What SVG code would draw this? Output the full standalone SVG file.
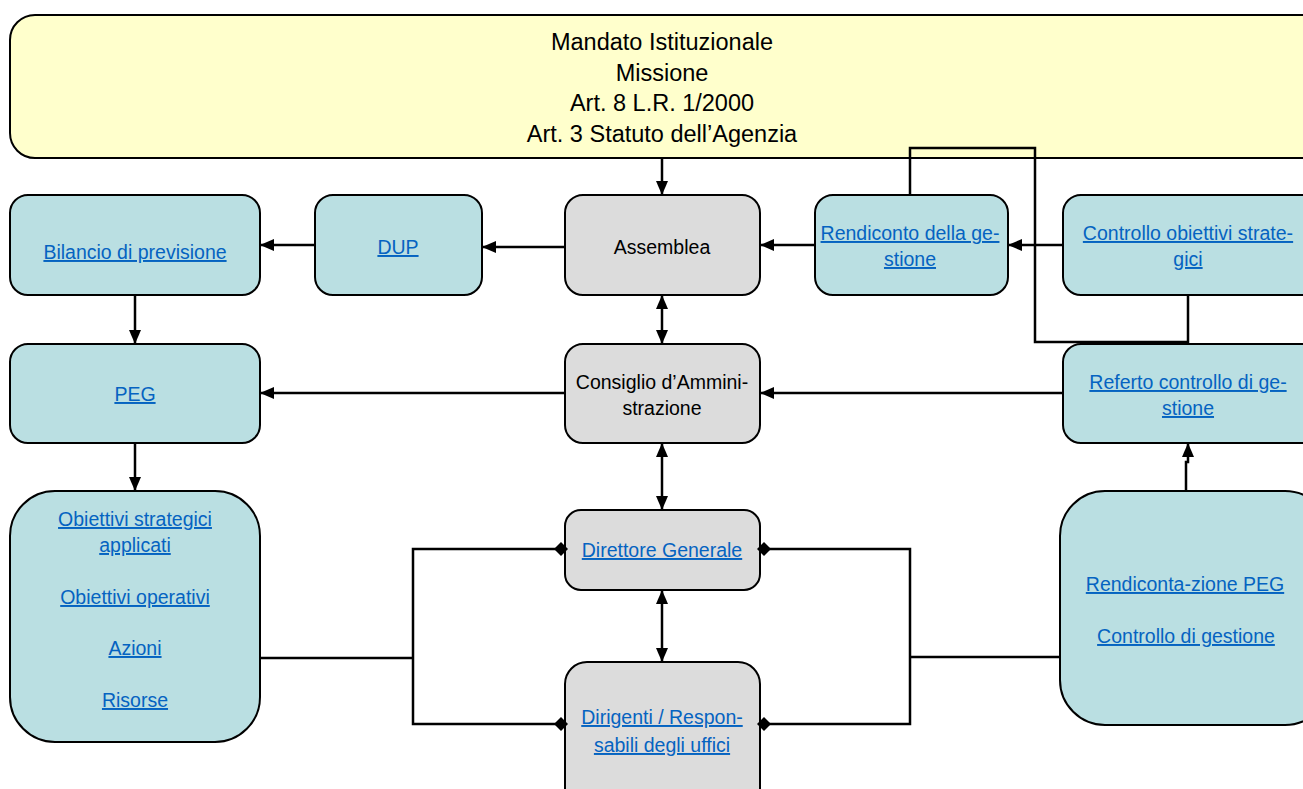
<svg xmlns="http://www.w3.org/2000/svg" width="1303" height="789" viewBox="0 0 1303 789">
<style>
.box{stroke:#000;stroke-width:2}
.y{fill:#FFFFCC}
.b{fill:#BADFE2}
.g{fill:#DCDCDC}
.t{font-family:"Liberation Sans",Arial,sans-serif;font-size:19.5px;text-anchor:middle;fill:#000}
.tt{font-family:"Liberation Sans",Arial,sans-serif;font-size:23.5px;text-anchor:middle;fill:#000}
.l{font-family:"Liberation Sans",Arial,sans-serif;font-size:19.5px;text-anchor:middle;fill:#0563C1;text-decoration:underline}
.c{fill:none;stroke:#000;stroke-width:2.5}
</style>
<defs>
<marker id="ah" viewBox="0 0 14 12" markerWidth="14" markerHeight="12" refX="14" refY="6" orient="auto-start-reverse" markerUnits="userSpaceOnUse">
<path d="M0,0 L14,6 L0,12 z" fill="#000"/>
</marker>
<marker id="dm" viewBox="0 0 14 14" markerWidth="14" markerHeight="14" refX="11" refY="7" orient="auto" markerUnits="userSpaceOnUse">
<path d="M0,7 L7,0 L14,7 L7,14 z" fill="#000"/>
</marker>
</defs>
<g id="mandato">
<rect class="box y" x="10" y="15" width="1320" height="143" rx="25"/>
<text class="tt" x="662" y="50">Mandato Istituzionale</text>
<text class="tt" x="662" y="81">Missione</text>
<text class="tt" x="662" y="111">Art. 8 L.R. 1/2000</text>
<text class="tt" x="662" y="142">Art. 3 Statuto dell’Agenzia</text>
</g>
<g id="bilancio">
<rect class="box b" x="10" y="195" width="250" height="100" rx="18"/>
<text class="l" x="135" y="259">Bilancio di previsione</text>
</g>
<g id="dup">
<rect class="box b" x="315" y="195" width="167" height="100" rx="18"/>
<text class="l" x="398" y="254">DUP</text>
</g>
<g id="assemblea">
<rect class="box g" x="565" y="195" width="195" height="100" rx="18"/>
<text class="t" x="662" y="254">Assemblea</text>
</g>
<g id="rendiconto">
<rect class="box b" x="815" y="195" width="193" height="100" rx="18"/>
<text class="l" x="910" y="240">Rendiconto della ge-</text>
<text class="l" x="910" y="266">stione</text>
</g>
<g id="controllo-obiettivi">
<rect class="box b" x="1063" y="195" width="260" height="100" rx="18"/>
<text class="l" x="1188" y="240">Controllo obiettivi strate-</text>
<text class="l" x="1188" y="266">gici</text>
</g>
<g id="peg">
<rect class="box b" x="10" y="344" width="250" height="99" rx="18"/>
<text class="l" x="135" y="401">PEG</text>
</g>
<g id="consiglio">
<rect class="box g" x="565" y="344" width="195" height="99" rx="18"/>
<text class="t" x="662" y="389">Consiglio d’Ammini-</text>
<text class="t" x="662" y="415">strazione</text>
</g>
<g id="referto">
<rect class="box b" x="1063" y="344" width="260" height="99" rx="18"/>
<text class="l" x="1188" y="389">Referto controllo di ge-</text>
<text class="l" x="1188" y="415">stione</text>
</g>
<g id="obiettivi">
<rect class="box b" x="10" y="491" width="250" height="251" rx="45"/>
<text class="l" x="135" y="526">Obiettivi strategici</text>
<text class="l" x="135" y="552">applicati</text>
<text class="l" x="135" y="604">Obiettivi operativi</text>
<text class="l" x="135" y="655">Azioni</text>
<text class="l" x="135" y="707">Risorse</text>
</g>
<g id="direttore">
<rect class="box g" x="565" y="510" width="195" height="80" rx="16"/>
<text class="l" x="662" y="557">Direttore Generale</text>
</g>
<g id="dirigenti">
<rect class="box g" x="565" y="662" width="195" height="150" rx="22"/>
<text class="l" x="662" y="724">Dirigenti / Respon-</text>
<text class="l" x="662" y="752">sabili degli uffici</text>
</g>
<g id="rendicontazione">
<rect class="box b" x="1060" y="491" width="270" height="234" rx="45"/>
<text class="l" x="1185" y="591">Rendiconta-zione PEG</text>
<text class="l" x="1186" y="643">Controllo di gestione</text>
</g>
<g id="connectors">
<path class="c" d="M662,158 V195" marker-end="url(#ah)"/>
<path class="c" d="M565,247 H482" marker-end="url(#ah)"/>
<path class="c" d="M315,245 H260" marker-end="url(#ah)"/>
<path class="c" d="M815,245 H760" marker-end="url(#ah)"/>
<path class="c" d="M1063,245 H1008" marker-end="url(#ah)"/>
<path class="c" d="M910,195 V148 H1035 V342 H1188 V295"/>
<path class="c" d="M662,295 V344" marker-start="url(#ah)" marker-end="url(#ah)"/>
<path class="c" d="M135,295 V344" marker-end="url(#ah)"/>
<path class="c" d="M565,393 H260" marker-end="url(#ah)"/>
<path class="c" d="M1063,393 H760" marker-end="url(#ah)"/>
<path class="c" d="M135,443 V491" marker-end="url(#ah)"/>
<path class="c" d="M662,443 V510" marker-start="url(#ah)" marker-end="url(#ah)"/>
<path class="c" d="M662,590 V662" marker-start="url(#ah)" marker-end="url(#ah)"/>
<path class="c" d="M1186,491 V462 H1188 V443" marker-end="url(#ah)"/>
<path class="c" d="M260,658 H413"/>
<path class="c" d="M413,658 V549 H565" marker-end="url(#dm)"/>
<path class="c" d="M413,658 V724 H565" marker-end="url(#dm)"/>
<path class="c" d="M1060,657 H910"/>
<path class="c" d="M910,657 V549 H760" marker-end="url(#dm)"/>
<path class="c" d="M910,657 V724 H760" marker-end="url(#dm)"/>
</g>
</svg>
